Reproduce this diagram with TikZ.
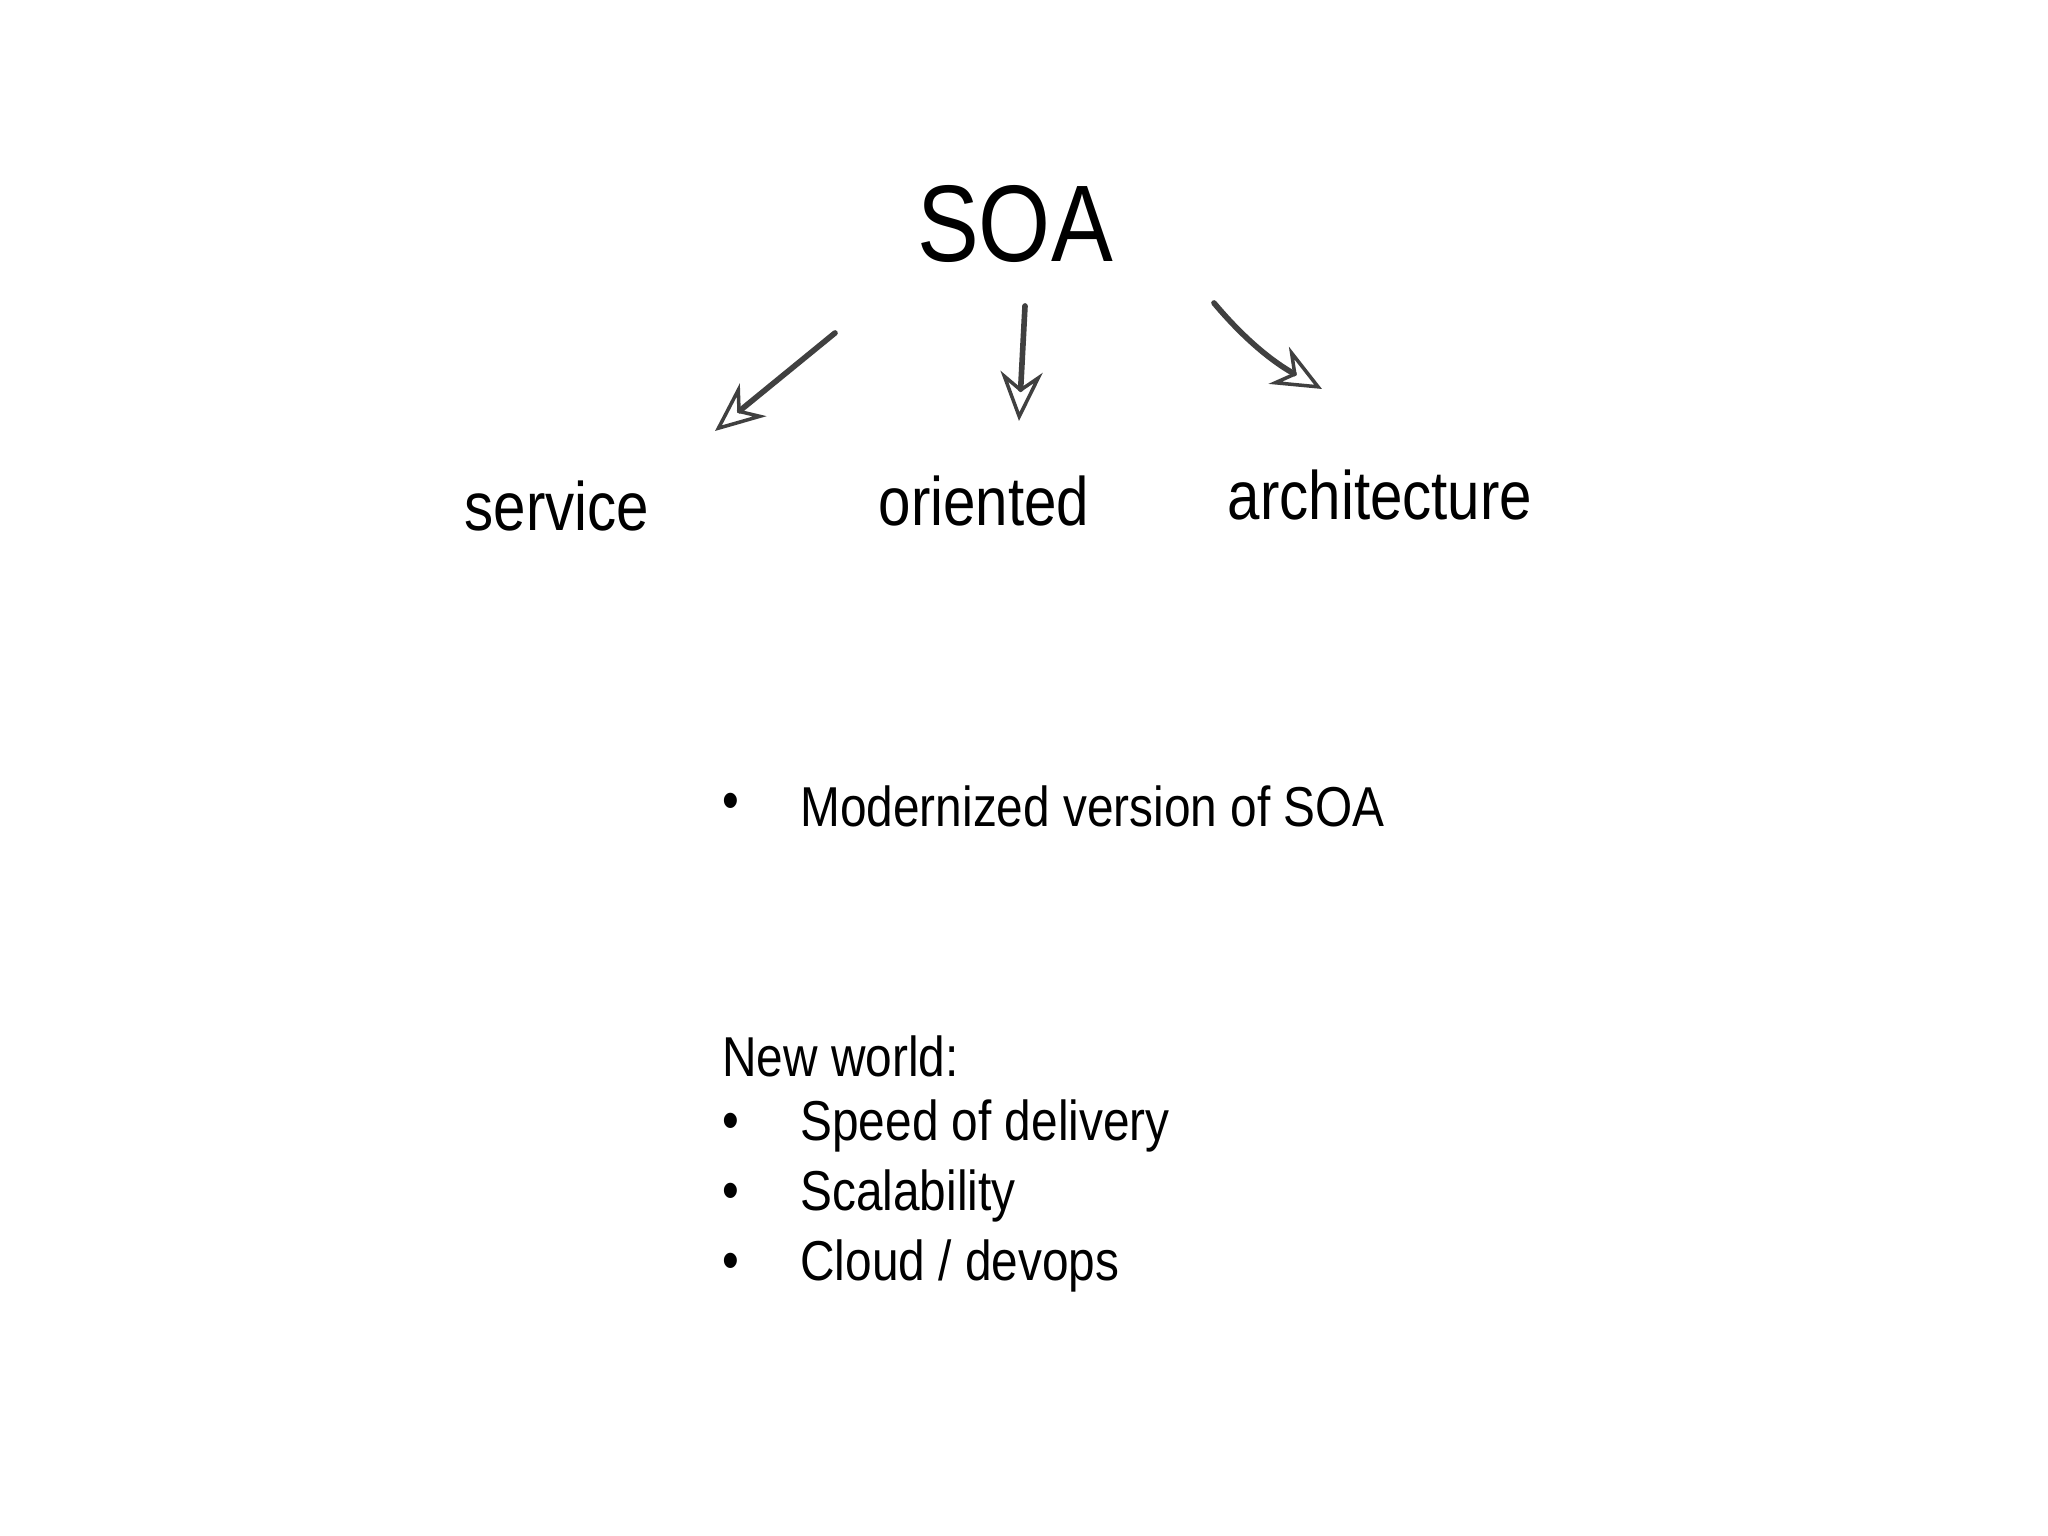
\documentclass[tikz,border=0pt]{standalone}
\usepackage{fontspec}
\setmainfont[FakeStretch=0.85]{Liberation Sans}
\usetikzlibrary{arrows.meta}
\begin{document}
\begin{tikzpicture}
\useasboundingbox (0,0) rectangle (20.48,15.36);
\tikzset{lbl/.style={font=\fontsize{19.5}{23}\selectfont},
 itm/.style={anchor=west,font=\fontsize{16}{20}\selectfont},
 sk/.style={draw=black!75,line width=1.6pt,line cap=round,-{Stealth[open,length=14pt,width=12pt,line width=1pt]}}}
\node (soa) at (10.15,13.12) {\fontsize{31}{36}\selectfont SOA};
\node[lbl] (srv) at (5.57,10.30) {service};
\node[lbl] (ori) at (9.84,10.35) {oriented};
\node[lbl] (arc) at (13.80,10.41) {architecture};
\coordinate (a1) at (8.35,12.03); \coordinate (b1) at (7.15,11.05);
\coordinate (a2) at (10.25,12.30); \coordinate (b2) at (10.19,11.15);
\coordinate (a3) at (12.14,12.33); \coordinate (b3) at (13.22,11.47);
\draw[sk] (a1) -- (b1);
\draw[sk] (a2) -- (b2);
\draw[sk] (a3) .. controls (12.5,11.9) and (12.8,11.7) .. (b3);
\node[itm] (bl0) at (7.10,7.30) {•};
\node[itm] (t0) at (7.88,7.30) {Modernized version of SOA};
\node[itm] (nw) at (7.10,4.80) {New world:};
\node[itm] (bl1) at (7.10,4.10) {•};
\node[itm] (t1) at (7.88,4.10) {Speed of delivery};
\node[itm] (bl2) at (7.10,3.40) {•};
\node[itm] (t2) at (7.88,3.40) {Scalability};
\node[itm] (bl3) at (7.10,2.70) {•};
\node[itm] (t3) at (7.88,2.70) {Cloud / devops};
\end{tikzpicture}
\end{document}
